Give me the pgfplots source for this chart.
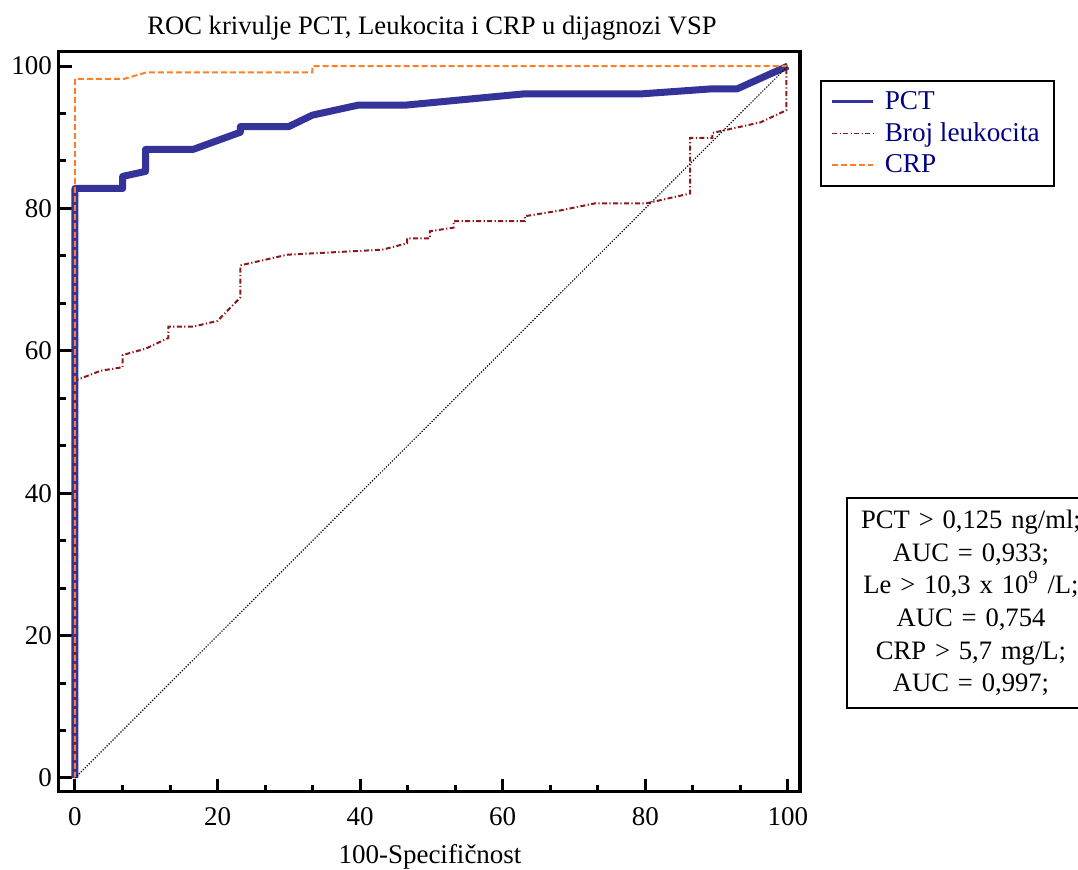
\documentclass[border=0pt]{standalone}
\usepackage{fontspec}
\setmainfont{Liberation Serif}
\usepackage{pgfplots}
\pgfplotsset{compat=1.18}
\definecolor{pctblue}{RGB}{51,51,153}
\definecolor{leukred}{RGB}{139,26,26}
\definecolor{crporange}{RGB}{255,127,39}
\definecolor{legnavy}{RGB}{0,0,128}
\begin{document}
\begin{tikzpicture}
\useasboundingbox (-29.5pt,-38.5pt) rectangle (509.5pt,396pt);
\begin{axis}[
  scale only axis, width=370.5pt, height=370pt,
  xmin=-2.24, xmax=101.7, ymin=-1.97, ymax=101.97,
  axis line style={line width=1.5pt},
  xtick={0,20,...,100}, ytick={0,20,...,100},
  minor tick num=2,
  tick align=inside, xtick pos=left, ytick pos=left,
  major tick length=6.5pt, minor tick length=3.5pt,
  major tick style={line width=1.5pt, black},
  minor tick style={line width=1.5pt, black},
  tick label style={font=\fontsize{13.5}{16}\selectfont},
  /pgf/number format/assume math mode=true,
  xticklabel style={yshift=-4pt},
  legend cell align=left,
  legend style={at={(1.027,0.962)}, anchor=north west, draw=black, line width=1pt,
    font=\fontsize{13.6}{16}\selectfont, text=legnavy, row sep=1.2pt, inner xsep=5pt, inner ysep=3pt},
]
\addplot[pctblue, line width=3.5pt, line join=round,
  legend image code/.code={\draw[pctblue, line width=1.4pt, solid] (0pt,0pt) -- (20.5pt,0pt);}]
coordinates {(0,0) (0,82.8) (6.7,82.8) (6.7,84.5) (9.9,85.2) (9.9,88.3) (16.6,88.3) (23.2,90.7) (23.2,91.5) (30,91.5) (33.3,93.1) (39.7,94.5) (46.3,94.5) (63.1,96.1) (79.6,96.1) (89.4,96.8) (92.9,96.8) (100,100)};
\addlegendentry{\hspace{3pt}PCT}
\addplot[leukred, line width=1pt, dash pattern=on 2.5pt off 1.2pt on 0.6pt off 1.2pt,
  legend image code/.code={\draw[draw=leukred, line width=0.9pt, dash pattern=on 2.5pt off 1.2pt on 0.6pt off 1.2pt] (0pt,0pt) -- (20.5pt,0pt);}]
coordinates {(0,0) (0,55.8) (3.6,57.2) (6.7,57.7) (6.7,59.4) (9.9,60.3) (13.1,61.8) (13.1,63.4) (16.6,63.4) (20,64.2) (23.2,67.5) (23.2,72) (29.8,73.5) (43.1,74.2) (46.6,75.1) (46.6,75.8) (49.8,75.8) (49.8,76.8) (53.1,77.3) (53.1,78.2) (63.1,78.2) (63.1,78.9) (68,79.7) (72.9,80.7) (80.1,80.7) (86.3,82.1) (86.3,89.9) (89.4,89.9) (89.4,90.6) (96.2,92.1) (99.8,93.8) (99.8,100)};
\addlegendentry{\hspace{3pt}Broj leukocita\hspace{4pt}}
\addplot[crporange, line width=1pt, dash pattern=on 3pt off 1.5pt,
  legend image code/.code={\draw[draw=crporange, line width=0.9pt, dash pattern=on 3pt off 1.5pt] (0pt,0pt) -- (20.5pt,0pt);}]
coordinates {(0,0) (0,98.2) (6.9,98.2) (10,99.1) (33.3,99.1) (33.3,100) (100,100)};
\addlegendentry{\hspace{3pt}CRP}
\addplot[black, line width=0.6pt, dash pattern=on 0.6pt off 0.8pt, forget plot]
coordinates {(0,0) (100,100)};
\end{axis}
\node[anchor=base, font=\fontsize{13.3}{16}\selectfont] at (186.5pt,378.5pt) {ROC krivulje PCT, Leukocita i CRP u dijagnozi VSP};
\node[anchor=base, font=\fontsize{13.5}{16}\selectfont] at (185.5pt,-35.5pt) {100-Specifičnost};
\node[draw, line width=1.2pt, align=center, text width=112pt, inner xsep=6pt, inner ysep=6pt,
  font=\fontsize{13.3}{16.3}\selectfont] at (456pt,94.5pt)
  {PCT > 0,125 ng/ml;\\ AUC = 0,933;\\ Le > 10,3 x 10\textsuperscript{9} /L;\\ AUC = 0,754\\ CRP > 5,7 mg/L;\\ AUC = 0,997;};
\end{tikzpicture}
\end{document}
